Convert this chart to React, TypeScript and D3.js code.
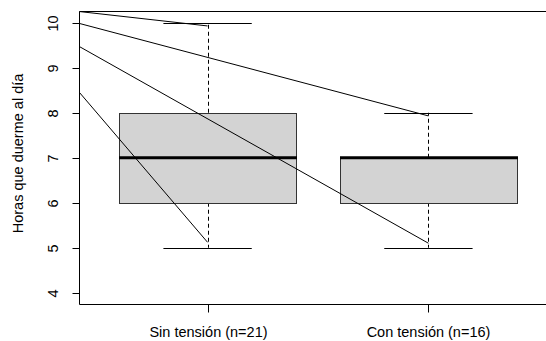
import React from "react";
import * as d3 from "d3";

const categories = ["Sin tensión (n=21)", "Con tensión (n=16)"];
const q1 = [6, 6];
const medians = [7, 7];
const q3 = [8, 7];
const whiskerLow = [5, 5];
const whiskerHigh = [10, 8];
const yTicks = [4, 5, 6, 7, 8, 9, 10];
const yLabel = "Horas que duerme al día";
// annotation segments: start value on left axis -> category index & end value
const annStart = [10.25, 9.985, 9.47, 8.45];
const annCat = [0, 1, 1, 0];
const annEnd = [9.93, 7.93, 5.1, 5.12];

const W = 546;
const H = 341;
const font = "'Liberation Sans', Arial, Helvetica, sans-serif";
const fs = 14.5;

export default function App() {
  const x = d3.scaleLinear().domain([0.42, 2.58]).range([79.5, 556.5]);
  const y = d3.scaleLinear().domain([3.76, 10.24]).range([303.5, 12]);
  const bw = 0.8;
  const sw = 0.4;
  const left = x(0.42);
  const bottom = y(3.76);
  const top = 11.5;

  return (
    <svg width={W} height={H} style={{ position: "absolute", left: 0, top: 0, background: "#fff" }}>
      {categories.map((c, i) => {
        const cx = Math.round(x(i + 1)) + 0.5;
        const x0 = x(i + 1 - bw / 2);
        const x1 = x(i + 1 + bw / 2);
        return (
          <g key={c}>
            <line x1={cx} x2={cx} y1={y(q3[i])} y2={y(whiskerHigh[i])} stroke="#000" strokeDasharray="4,3" />
            <line x1={cx} x2={cx} y1={y(q1[i])} y2={y(whiskerLow[i])} stroke="#000" strokeDasharray="4,3" />
            <line x1={x(i + 1 - sw / 2)} x2={x(i + 1 + sw / 2)} y1={Math.round(y(whiskerHigh[i])) + 0.5} y2={Math.round(y(whiskerHigh[i])) + 0.5} stroke="#000" />
            <line x1={x(i + 1 - sw / 2)} x2={x(i + 1 + sw / 2)} y1={Math.round(y(whiskerLow[i])) + 0.5} y2={Math.round(y(whiskerLow[i])) + 0.5} stroke="#000" />
            <rect x={Math.round(x0) + 0.5} y={Math.round(y(q3[i])) + 0.5} width={Math.round(x1 - x0)} height={Math.round(y(q1[i]) - y(q3[i]))} fill="#d3d3d3" stroke="#333" />
            <line x1={Math.round(x0)} x2={Math.round(x1) + 1} y1={y(medians[i])} y2={y(medians[i])} stroke="#000" strokeWidth={3} />
          </g>
        );
      })}
      {annStart.map((s, i) => (
        <line key={i} x1={left} y1={y(s)} x2={x(annCat[i] + 1)} y2={y(annEnd[i])} stroke="#000" strokeWidth={1} />
      ))}
      <path d={`M${W + 20},${top}H${left}V${Math.round(bottom) + 0.5}H${W + 20}`} fill="none" stroke="#000" />
      {yTicks.map((t) => {
        const ty = Math.round(y(t)) + 0.5;
        return (
          <g key={t}>
            <line x1={left - 7} x2={left} y1={ty} y2={ty} stroke="#000" />
            <text transform={`translate(58,${ty}) rotate(-90)`} textAnchor="middle" fontFamily={font} fontSize={fs} fill="#000">{t}</text>
          </g>
        );
      })}
      {categories.map((c, i) => {
        const cx = Math.round(x(i + 1)) + 0.5;
        return (
          <g key={c}>
            <line x1={cx} x2={cx} y1={Math.round(bottom) + 0.5} y2={Math.round(bottom) + 8.5} stroke="#000" />
            <text x={cx} y={337} textAnchor="middle" fontFamily={font} fontSize={fs} fill="#000">{c}</text>
          </g>
        );
      })}
      <text transform={`translate(23,${(top + bottom) / 2 - 4}) rotate(-90)`} textAnchor="middle" fontFamily={font} fontSize={fs} fill="#000">{yLabel}</text>
    </svg>
  );
}
